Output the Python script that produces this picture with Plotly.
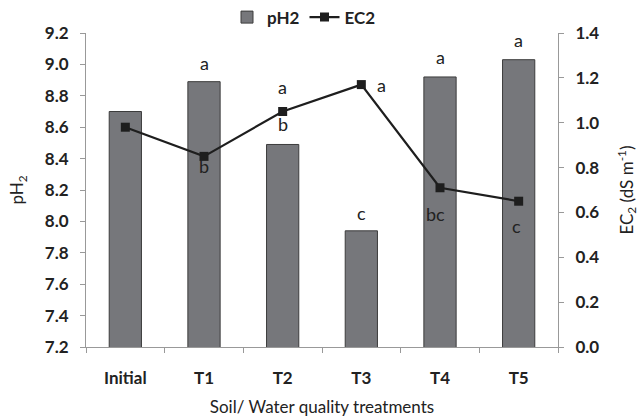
import plotly.graph_objects as go

categories = ["Initial", "T1", "T2", "T3", "T4", "T5"]
ph2 = [8.70, 8.89, 8.49, 7.94, 8.92, 9.03]
ec2 = [0.98, 0.85, 1.05, 1.17, 0.71, 0.65]

# significance letters: (category, text, series, pixel shift x, pixel shift y)
letters = [
    ("T1", "a", "ph", 0, 19),
    ("T3", "c", "ph", 0, 18),
    ("T4", "a", "ph", 0, 20),
    ("T5", "a", "ph", 0, 20),
    ("T1", "b", "ec", 0, -10),
    ("T2", "a", "ec", 0, 25),
    ("T2", "b", "ec", 0, -12),
    ("T3", "a", "ec", 20, 0),
    ("T4", "bc", "ec", -5, -26),
    ("T5", "c", "ec", -2, -25),
]

FONT = "Lato, 'Open Sans', Arial, sans-serif"

fig = go.Figure()
fig.add_trace(go.Bar(
    x=categories, y=ph2, name="<b>pH2</b>",
    marker=dict(color="#76777b", line=dict(color="#3c3c3c", width=1)),
    width=0.41,
))
fig.add_trace(go.Scatter(
    x=categories, y=ec2, name="<b>EC2</b>", yaxis="y2", mode="lines+markers",
    line=dict(color="#1e1e1e", width=2.2),
    marker=dict(symbol="square", size=9, color="#1e1e1e"),
))

anns = []
for cat, txt, ser, dx, dy in letters:
    i = categories.index(cat)
    if ser == "ph":
        anns.append(dict(x=cat, y=ph2[i], xref="x", yref="y", text=txt, showarrow=False,
                         xshift=dx, yshift=dy, font=dict(family=FONT, size=18, color="#222")))
    else:
        anns.append(dict(x=cat, y=ec2[i], xref="x", yref="y2", text=txt, showarrow=False,
                         xshift=dx, yshift=dy, font=dict(family=FONT, size=18, color="#222")))

tickfont = dict(family=FONT, size=17, color="#222", weight="bold")
titlefont = dict(family=FONT, size=17, color="#222")

fig.update_layout(
    width=640, height=418,
    margin=dict(l=86, r=82, t=33, b=71, autoexpand=False),
    paper_bgcolor="white", plot_bgcolor="white",
    font=dict(family=FONT, color="#222"),
    showlegend=True,
    legend=dict(orientation="h", x=0.475, y=0.958, xref="container", yref="container",
                xanchor="center", yanchor="middle",
                font=dict(family=FONT, size=17, color="#222"), bgcolor="rgba(0,0,0,0)",
                tracegroupgap=0),
    bargap=0.59,
    xaxis=dict(
        type="category", range=[-0.5, 5.5],
        showline=True, linecolor="#999", linewidth=1,
        ticks="outside", ticklen=5, tickcolor="#999", tickson="boundaries",
        tickfont=tickfont, ticklabelstandoff=16,
        title=dict(text="Soil/ Water quality treatments", font=titlefont, standoff=13),
        showgrid=False, zeroline=False,
    ),
    yaxis=dict(
        range=[7.2, 9.2], dtick=0.2, tick0=7.2, tickformat=".1f",
        showline=True, linecolor="#999", linewidth=1,
        ticks="outside", ticklen=5, tickcolor="#999",
        tickfont=tickfont, ticklabelstandoff=8,
        title=dict(text="pH<sub>2</sub>", font=titlefont, standoff=16),
        showgrid=False, zeroline=False,
    ),
    yaxis2=dict(
        range=[0, 1.4], dtick=0.2, tick0=0, tickformat=".1f",
        overlaying="y", side="right",
        showline=True, linecolor="#999", linewidth=1,
        ticks="outside", ticklen=5, tickcolor="#999",
        tickfont=tickfont, ticklabelstandoff=8,
        title=dict(text="EC<sub>2</sub> (dS m<sup>-1</sup>)", font=titlefont, standoff=22),
        showgrid=False, zeroline=False,
    ),
    annotations=anns,
)

fig.write_html("out.html")
